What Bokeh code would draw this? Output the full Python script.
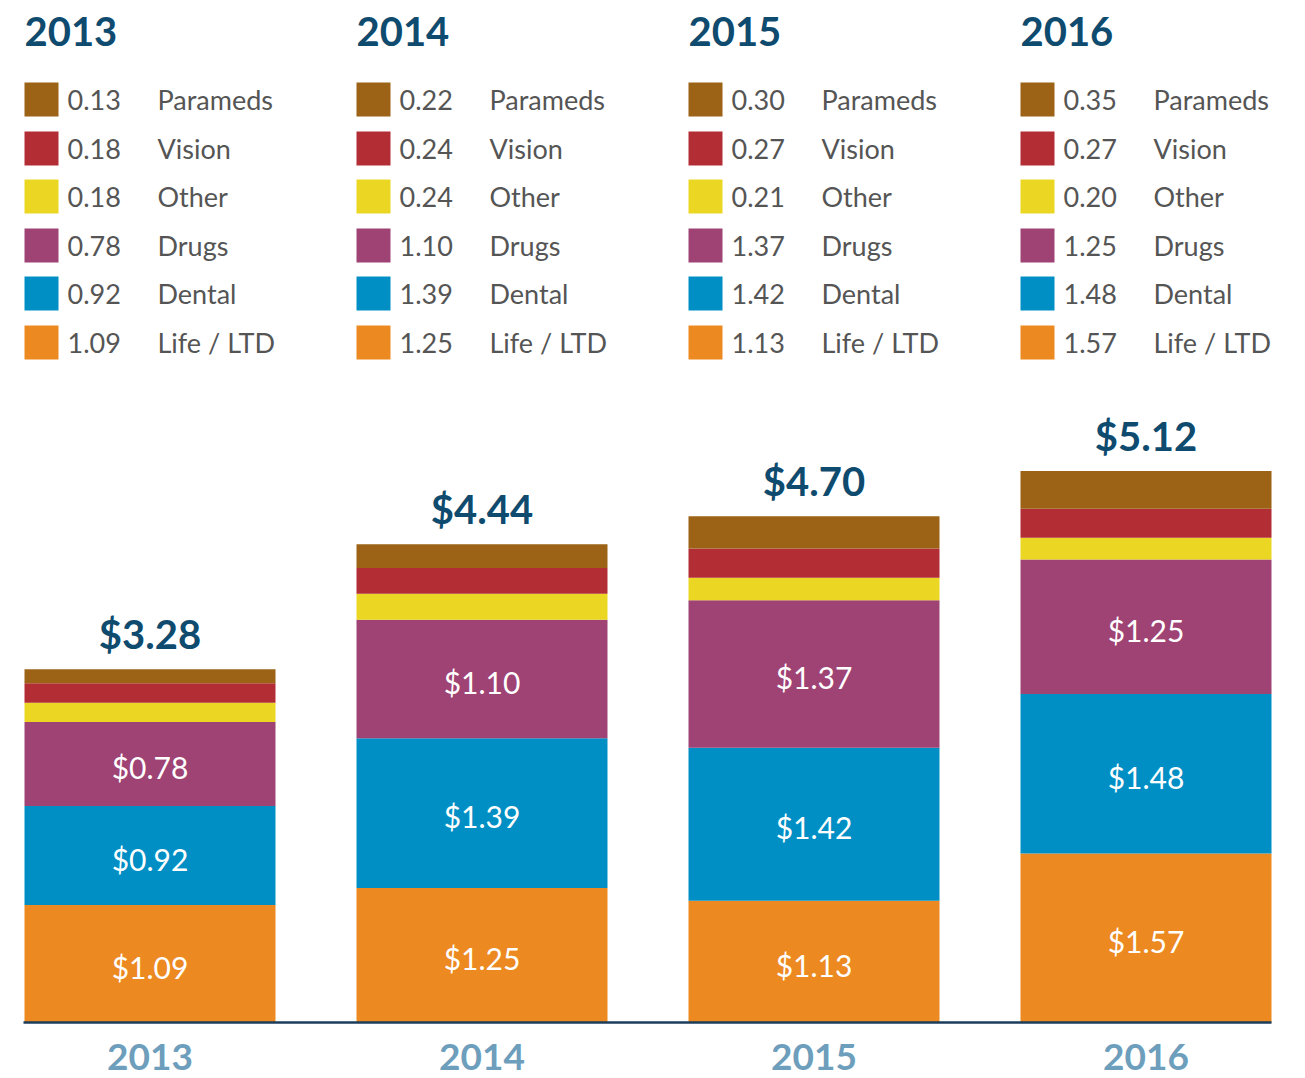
from bokeh.plotting import figure
from bokeh.models import Range1d, ColumnDataSource
from bokeh.core.properties import value
from bokeh.embed import file_html
from bokeh.resources import INLINE

# ---- data ----
years = ["2013", "2014", "2015", "2016"]
categories_top_down = ["Parameds", "Vision", "Other", "Drugs", "Dental", "Life / LTD"]
parameds = [0.13, 0.22, 0.30, 0.35]
vision = [0.18, 0.24, 0.27, 0.27]
other = [0.18, 0.24, 0.21, 0.20]
drugs = [0.78, 1.10, 1.37, 1.25]
dental = [0.92, 1.39, 1.42, 1.48]
life = [1.09, 1.25, 1.13, 1.57]
totals = [3.28, 4.44, 4.70, 5.12]

colors = {
    "Parameds": "#9c6316",
    "Vision": "#b32d35",
    "Other": "#ebd723",
    "Drugs": "#9f4274",
    "Dental": "#008fc5",
    "Life / LTD": "#ec8920",
}
series = {
    "Parameds": parameds, "Vision": vision, "Other": other,
    "Drugs": drugs, "Dental": dental, "Life / LTD": life,
}

FONT = "Lato"
DARK = "#0e4b6e"
GREY = "#555555"
LIGHT = "#6d9ebc"

# ---- layout (pixel geometry -> data scales) ----
W, H = 1300, 1076
PXX = 332.0      # px per category index
PXY = 107.7      # px per dollar
BAR_W = 251.0 / PXX
ORIG_X = 149.5   # px of index 0 within canvas
BASE_Y = 1022    # px of $0 within canvas

x_start = -ORIG_X / PXX
y_end = BASE_Y / PXY
y_start = -(H - BASE_Y) / PXY

def ydat(py):
    return (BASE_Y - py) / PXY

p = figure(width=W, height=H, output_backend="svg", toolbar_location=None,
           x_range=Range1d(x_start, x_start + W / PXX),
           y_range=Range1d(y_start, y_end),
           min_border=0, min_border_left=0, min_border_right=0,
           min_border_top=0, min_border_bottom=0)
p.axis.visible = False
p.grid.visible = False
p.outline_line_color = None
p.background_fill_color = "white"

xs = list(range(len(years)))
stack_order = ["Life / LTD", "Dental", "Drugs", "Other", "Vision", "Parameds"]
data = {"x": xs}
for name in stack_order:
    data[name] = series[name]
src = ColumnDataSource(data)
p.vbar_stack(stack_order, x="x", width=BAR_W, source=src,
             color=[colors[n] for n in stack_order], line_color=None)

# baseline
p.segment(x0=[xs[0] - BAR_W / 2 - 1.0 / PXX], y0=[0], x1=[xs[-1] + BAR_W / 2], y1=[0],
          line_color="#1b3d5b", line_width=2.5)

# inner labels
lx, ly, lt = [], [], []
for i in xs:
    base = 0.0
    for name in ["Life / LTD", "Dental", "Drugs"]:
        v = series[name][i]
        lx.append(i)
        ly.append(base + v / 2 - 3 / PXY)
        lt.append("$%.2f" % v)
        base += v
p.text(x=lx, y=ly, text=lt, text_color="white", text_font=value(FONT),
       text_font_size="30px", text_align="center", text_baseline="middle")

# totals
p.text(x=xs, y=[t + 35 / PXY for t in totals], text=["$%.2f" % t for t in totals],
       text_color=DARK, text_font=value(FONT), text_font_style="bold",
       text_font_size="40px", text_align="center", text_baseline="middle")

# bottom year labels
p.text(x=xs, y=[ydat(1056)] * 4, text=years, text_color=LIGHT, text_font=value(FONT),
       text_font_style="bold", text_font_size="37px", text_align="center",
       text_baseline="middle")

# legends above each bar
hx, hy, ht = [], [], []
sx, sy, sc = [], [], []
vx, vy, vt = [], [], []
nx, ny, nt = [], [], []
row_y = [99, 148, 196, 245, 293, 342]
for i in xs:
    left = i - BAR_W / 2
    hx.append(left)
    hy.append(ydat(31))
    ht.append(years[i])
    for r, name in enumerate(categories_top_down):
        sx.append(left + 17 / PXX)
        sy.append(ydat(row_y[r]))
        sc.append(colors[name])
        vx.append(left + 43 / PXX)
        vy.append(ydat(row_y[r]))
        vt.append("%.2f" % series[name][i])
        nx.append(left + 133 / PXX)
        ny.append(ydat(row_y[r]))
        nt.append(name)

p.text(x=hx, y=hy, text=ht, text_color=DARK, text_font=value(FONT),
       text_font_style="bold", text_font_size="40px", text_align="left",
       text_baseline="middle")
p.rect(x=sx, y=sy, width=34, height=34, width_units="screen", height_units="screen",
       fill_color=sc, line_color=None)
p.text(x=vx, y=vy, text=vt, text_color=GREY, text_font=value(FONT),
       text_font_size="27px", text_align="left", text_baseline="middle")
p.text(x=nx, y=ny, text=nt, text_color=GREY, text_font=value(FONT),
       text_font_size="27px", text_align="left", text_baseline="middle")

open("out.html", "w").write(file_html(p, INLINE))
